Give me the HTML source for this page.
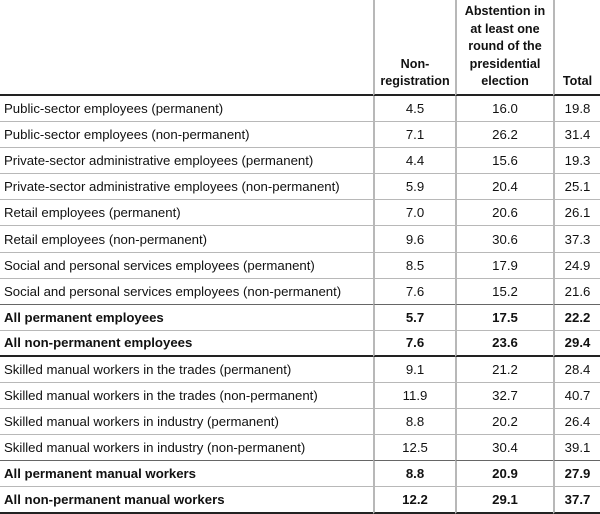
<!DOCTYPE html>
<html><head><style>
body{margin:0;width:600px;height:514px;background:#fff;overflow:hidden;font-family:"Liberation Sans",Arial,sans-serif;font-size:13.2px;color:#111}
.g{display:grid;grid-template-columns:373px 82px 98px 47px;grid-template-rows:96px repeat(16,26.1px);width:600px}
.g div{box-sizing:border-box;border-bottom:1px solid #b8b8b8;padding:0 0 0 4px;display:flex;align-items:center;white-space:nowrap}
.g div.n{justify-content:center;border-left:2px solid #b8b8b8;padding:0}
.g div.h{align-items:flex-end;font-weight:bold;font-size:12.6px;text-align:center;line-height:17.6px;padding-bottom:3px;border-bottom:2px solid #222;white-space:nowrap;justify-content:center}
.b{font-weight:bold}
.d{border-bottom:1px solid #666 !important}
.k{border-bottom:2px solid #222 !important}
</style></head><body>
<div class="g">
<div class="h" style="border-left:none"></div><div class="n h">Non-<br>registration</div><div class="n h">Abstention in<br>at least one<br>round of the<br>presidential<br>election</div><div class="n h">Total</div>
<div>Public-sector employees (permanent)</div><div class="n">4.5</div><div class="n">16.0</div><div class="n">19.8</div>
<div>Public-sector employees (non-permanent)</div><div class="n">7.1</div><div class="n">26.2</div><div class="n">31.4</div>
<div>Private-sector administrative employees (permanent)</div><div class="n">4.4</div><div class="n">15.6</div><div class="n">19.3</div>
<div>Private-sector administrative employees (non-permanent)</div><div class="n">5.9</div><div class="n">20.4</div><div class="n">25.1</div>
<div>Retail employees (permanent)</div><div class="n">7.0</div><div class="n">20.6</div><div class="n">26.1</div>
<div>Retail employees (non-permanent)</div><div class="n">9.6</div><div class="n">30.6</div><div class="n">37.3</div>
<div>Social and personal services employees (permanent)</div><div class="n">8.5</div><div class="n">17.9</div><div class="n">24.9</div>
<div class="d">Social and personal services employees (non-permanent)</div><div class="n d">7.6</div><div class="n d">15.2</div><div class="n d">21.6</div>
<div class="b">All permanent employees</div><div class="n b">5.7</div><div class="n b">17.5</div><div class="n b">22.2</div>
<div class="b k">All non-permanent employees</div><div class="n b k">7.6</div><div class="n b k">23.6</div><div class="n b k">29.4</div>
<div>Skilled manual workers in the trades (permanent)</div><div class="n">9.1</div><div class="n">21.2</div><div class="n">28.4</div>
<div>Skilled manual workers in the trades (non-permanent)</div><div class="n">11.9</div><div class="n">32.7</div><div class="n">40.7</div>
<div>Skilled manual workers in industry (permanent)</div><div class="n">8.8</div><div class="n">20.2</div><div class="n">26.4</div>
<div class="d">Skilled manual workers in industry (non-permanent)</div><div class="n d">12.5</div><div class="n d">30.4</div><div class="n d">39.1</div>
<div class="b">All permanent manual workers</div><div class="n b">8.8</div><div class="n b">20.9</div><div class="n b">27.9</div>
<div class="b k">All non-permanent manual workers</div><div class="n b k">12.2</div><div class="n b k">29.1</div><div class="n b k">37.7</div>
</div>
</body></html>
